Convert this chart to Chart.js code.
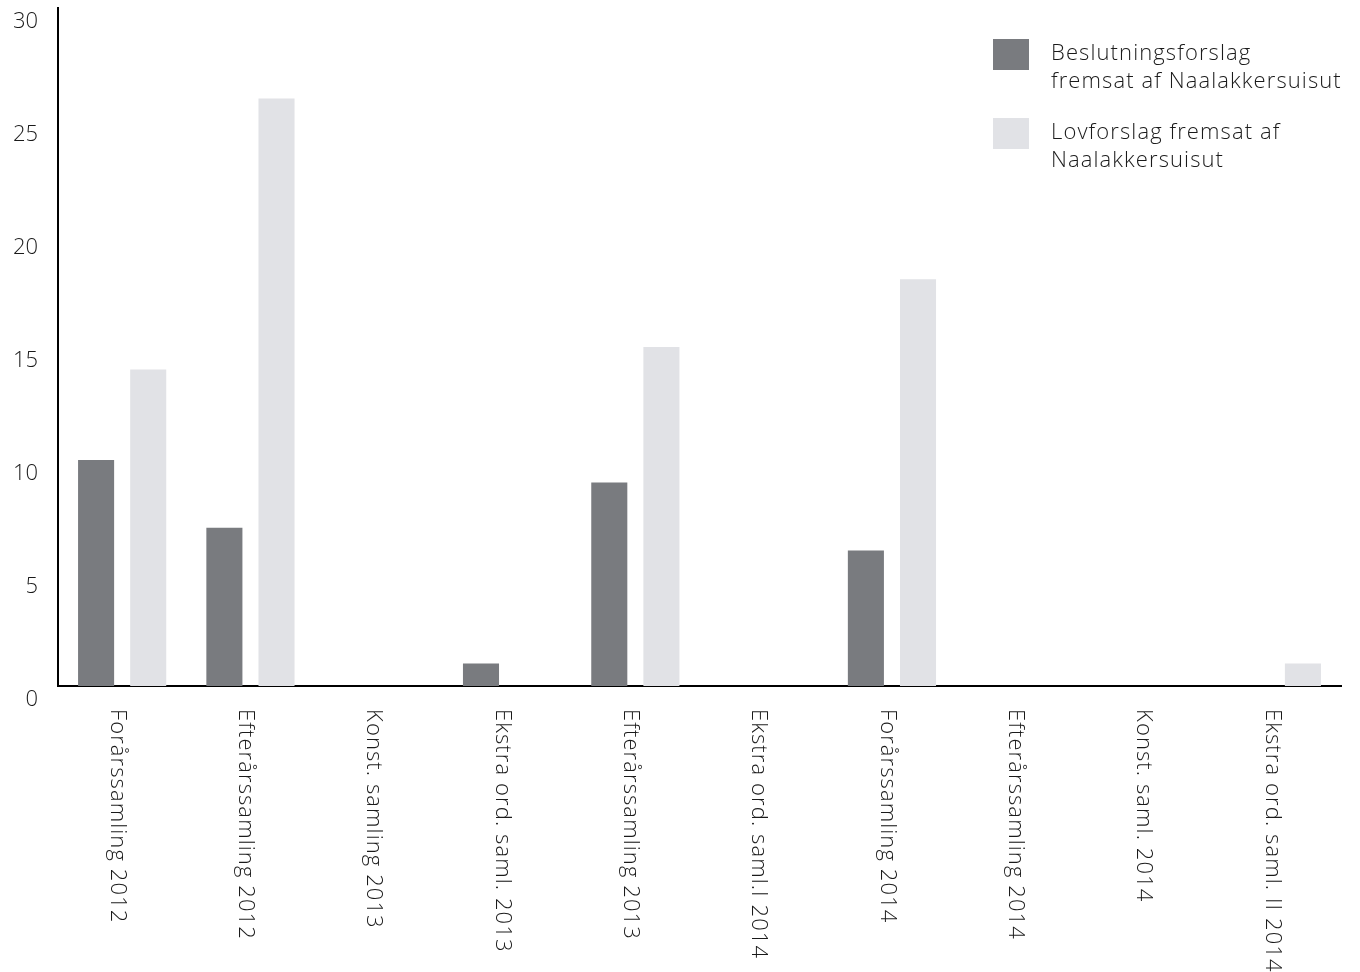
<!DOCTYPE html>
<html>
<head>
<meta charset="utf-8">
<script src="https://cdn.jsdelivr.net/npm/chart.js@4.4.1/dist/chart.umd.min.js"></script>
<style>
html,body{margin:0;padding:0;background:#fff;}
#wrap{width:1360px;height:972px;position:relative;}
</style>
</head>
<body>
<div id="wrap"><canvas id="c" width="1360" height="972"></canvas></div>
<script>
const categories = ["Forårssamling 2012","Efterårssamling 2012","Konst. samling 2013","Ekstra ord. saml. 2013","Efterårssamling 2013","Ekstra ord. saml.I 2014","Forårssamling 2014","Efterårssamling 2014","Konst. saml. 2014","Ekstra ord. saml. II 2014"];
const beslutningsforslag = [10, 7, 0, 1, 9, 0, 6, 0, 0, 0];
const lovforslag = [14, 26, 0, 0, 15, 0, 18, 0, 0, 1];
const seriesNames = [["Beslutningsforslag","fremsat af Naalakkersuisut"],["Lovforslag fremsat af","Naalakkersuisut"]];
const yTicks = [0, 5, 10, 15, 20, 25, 30];

const FONT = "'Open Sans'";
const colors = ["#797b7f", "#e1e2e6"];

const labelPlugin = {
  id: 'customLabels',
  afterDraw(chart) {
    const ctx = chart.ctx;
    const x = chart.scales.x;
    const base = chart.chartArea.bottom;
    ctx.save();
    ctx.fillStyle = "#1a1a1a";
    ctx.font = "300 22px " + FONT;
    ctx.textAlign = "left";
    ctx.textBaseline = "middle";
    try { ctx.letterSpacing = "1.1px"; } catch (e) {}
    categories.forEach((c, i) => {
      const px = x.getPixelForValue(i) - 5;
      ctx.save();
      ctx.translate(px, base + 23);
      ctx.rotate(Math.PI / 2);
      ctx.fillText(c, 0, 0);
      ctx.restore();
    });
    // legend
    const lx = 993, ly = [39, 118];
    seriesNames.forEach((lines, k) => {
      ctx.fillStyle = colors[k];
      ctx.fillRect(lx, ly[k], 36, 31);
      ctx.fillStyle = "#1a1a1a";
      lines.forEach((t, j) => {
        ctx.fillText(t, 1051, ly[k] + 15 + j * 28);
      });
    });
    ctx.restore();
  }
};

new Chart(document.getElementById('c'), {
  type: 'bar',
  data: {
    labels: categories,
    datasets: [
      { label: seriesNames[0].join(' '), data: beslutningsforslag, backgroundColor: colors[0] },
      { label: seriesNames[1].join(' '), data: lovforslag, backgroundColor: colors[1] }
    ]
  },
  options: {
    responsive: false,
    animation: false,
    layout: { padding: { top: 8, right: 19, left: 0, bottom: 0 } },
    plugins: { legend: { display: false }, tooltip: { enabled: false } },
    datasets: { bar: { categoryPercentage: 0.8125, barPercentage: 0.692 } },
    scales: {
      x: {
        grid: { display: false, drawTicks: false },
        border: { display: true, color: '#000', width: 2 },
        ticks: { display: false },
        afterFit(s) { s.height = 286; s.paddingLeft = 0; s.paddingRight = 0; }
      },
      y: {
        min: 0, max: 30,
        afterBuildTicks(s) { s.ticks = yTicks.map(v => ({ value: v })); },
        grid: { display: false, drawTicks: false },
        border: { display: true, color: '#000', width: 2 },
        ticks: { color: '#1a1a1a', font: { family: FONT, size: 22, weight: '300' }, padding: 20, labelOffset: 14 },
        afterFit(s) { s.width = 58; s.paddingTop = 0; s.paddingBottom = 0; }
      }
    }
  },
  plugins: [labelPlugin]
});
</script>
</body>
</html>
